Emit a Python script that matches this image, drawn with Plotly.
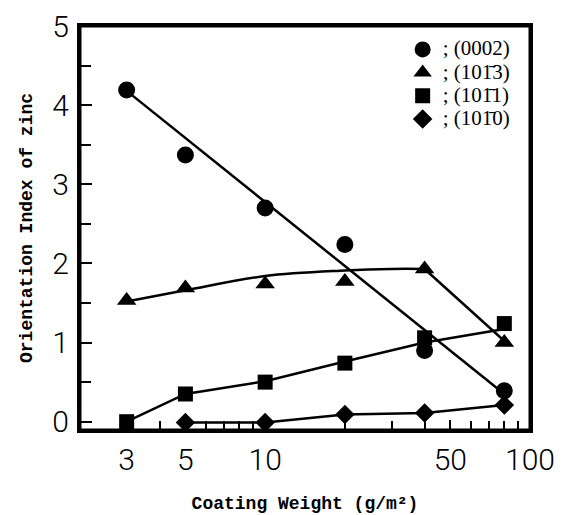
import plotly.graph_objects as go

# ---- data ----
coating_weight = [3, 5, 10, 20, 40, 80]
oi_0002 = [4.19, 3.37, 2.70, 2.24, 0.90, 0.39]
oi_1013 = [1.53, 1.69, 1.74, 1.77, 1.93, 1.00]
oi_1011 = [0.00, 0.35, 0.50, 0.74, 1.06, 1.24]
weight_1010 = [5, 10, 20, 40, 80]
oi_1010 = [-0.01, -0.01, 0.09, 0.11, 0.21]

# fitted / guide lines drawn in the original figure
fit_0002_x = [3, 80]
fit_0002_y = [4.18, 0.35]
fit_1013_curve_x = [3, 5, 10, 20, 30, 40]
fit_1013_curve_y = [1.52, 1.66, 1.84, 1.91, 1.93, 1.93]
fit_1013_tail_x = [40, 80]
fit_1013_tail_y = [1.93, 1.02]
fit_1011_x = [3, 5, 10, 20, 40, 80]
fit_1011_y = [0.00, 0.35, 0.51, 0.76, 1.00, 1.17]

legend_labels = ["; (0002)", "; (101\u03043)", "; (101\u03041)", "; (101\u03040)"]

x_tickvals = [3, 5, 10, 50, 100]
x_ticktext = ["3", "5", "10", "50", "100"]
x_minor = [4, 6, 7, 8, 9, 20, 30, 40, 60, 70, 80, 90]
y_tickvals = [0, 1, 2, 3, 4, 5]

LINE = dict(color="black", width=2.5)


def big(label):
    return "<span style='font-size:21px'>" + label + "</span>"


fig = go.Figure()

# guide lines (no legend)
fig.add_trace(go.Scatter(x=fit_0002_x, y=fit_0002_y, mode="lines", line=LINE, showlegend=False))
fig.add_trace(go.Scatter(x=fit_1013_curve_x, y=fit_1013_curve_y, mode="lines",
                         line=dict(color="black", width=2.5, shape="spline", smoothing=1.0), showlegend=False))
fig.add_trace(go.Scatter(x=fit_1013_tail_x, y=fit_1013_tail_y, mode="lines", line=LINE, showlegend=False))
fig.add_trace(go.Scatter(x=fit_1011_x, y=fit_1011_y, mode="lines", line=LINE, showlegend=False))
fig.add_trace(go.Scatter(x=weight_1010, y=oi_1010, mode="lines", line=LINE, showlegend=False))

# markers
fig.add_trace(go.Scatter(x=coating_weight, y=oi_0002, mode="markers", name=big(legend_labels[0]),
                         marker=dict(symbol="circle", size=17, color="black")))
fig.add_trace(go.Scatter(x=coating_weight, y=oi_1013, mode="markers", name=big(legend_labels[1]),
                         marker=dict(symbol="triangle-up", size=17, color="black")))
fig.add_trace(go.Scatter(x=coating_weight, y=oi_1011, mode="markers", name=big(legend_labels[2]),
                         marker=dict(symbol="square", size=15, color="black")))
fig.add_trace(go.Scatter(x=weight_1010, y=oi_1010, mode="markers", name=big(legend_labels[3]),
                         marker=dict(symbol="diamond", size=15, color="black")))

TICKFONT = dict(family="Roboto, Liberation Sans, Arial", size=30, color="black", weight=300)
TITLEFONT = dict(family="Liberation Mono, DejaVu Sans Mono, monospace", size=18, color="black", weight="bold")

# page body has an 8px margin, so the figure is sized to fit the 567x515 window
fig.update_layout(
    width=559, height=507,
    margin=dict(l=72, r=37, t=18, b=85, autoexpand=False),
    paper_bgcolor="white", plot_bgcolor="white",
    showlegend=True,
    legend=dict(x=0.717, y=0.983, xanchor="left", yanchor="top",
                bgcolor="rgba(0,0,0,0)", borderwidth=0,
                font=dict(family="Liberation Serif, Times New Roman, serif", size=15.5, color="black"),
                itemsizing="trace", tracegroupgap=0),
    xaxis=dict(type="log", range=[0.301, 2.0], automargin=False,
               tickvals=x_tickvals, ticktext=x_ticktext,
               ticks="inside", ticklen=10, tickwidth=2, tickcolor="black",
               minor=dict(tickvals=x_minor, ticks="inside", ticklen=9, tickwidth=2, tickcolor="black"),
               showline=True, linewidth=3, linecolor="black", mirror=True,
               showgrid=False, zeroline=False,
               tickfont=TICKFONT, ticklabelstandoff=1, ticklabeloverflow="allow",
               title=dict(text="Coating Weight (g/m\u00b2)", font=TITLEFONT, standoff=21)),
    yaxis=dict(range=[-0.105, 5.0], automargin=False,
               tickvals=y_tickvals,
               ticks="inside", ticklen=12, tickwidth=2, tickcolor="black",
               minor=dict(dtick=0.5, ticks="inside", ticklen=11, tickwidth=2, tickcolor="black"),
               showline=True, linewidth=3, linecolor="black", mirror=True,
               showgrid=False, zeroline=False,
               tickfont=TICKFONT, ticklabelstandoff=2, ticklabeloverflow="allow",
               title=dict(text="Orientation Index of zinc", font=TITLEFONT, standoff=16)),
    shapes=[dict(type="rect", xref="paper", yref="paper", x0=0, x1=1, y0=0, y1=1,
                 line=dict(color="black", width=3), layer="above")],
)

fig.write_html("out.html")
